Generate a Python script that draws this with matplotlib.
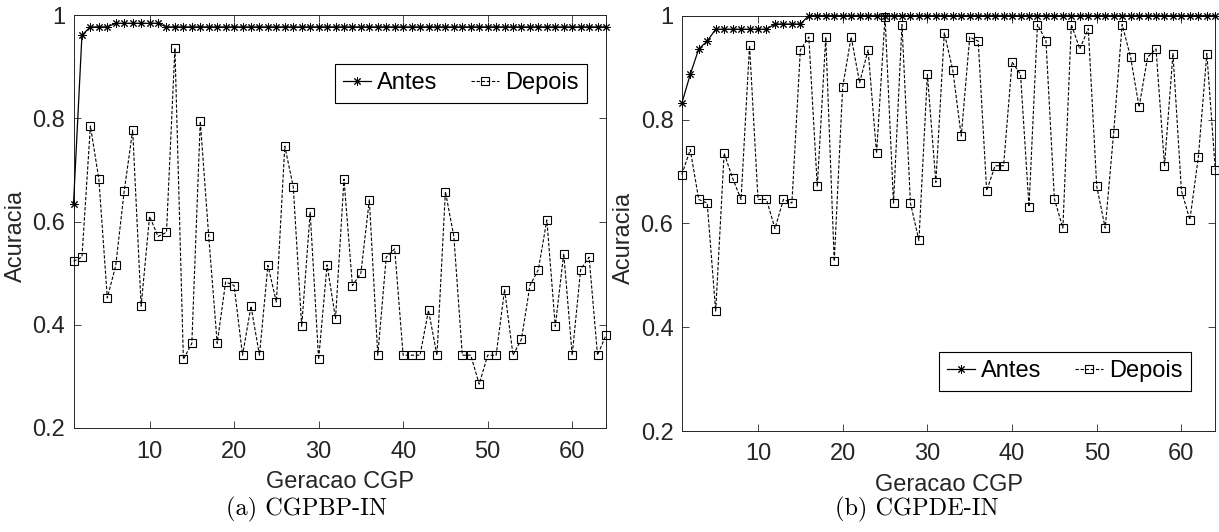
import matplotlib
matplotlib.use("Agg")
import matplotlib.pyplot as plt

geracao = list(range(1, 65))

# (a) CGPBP-IN
antes_bp = [0.634, 0.961, 0.977, 0.977, 0.977] + [0.984] * 6 + [0.977] * 53
depois_bp = [0.523, 0.531, 0.785, 0.682, 0.452, 0.515, 0.659, 0.777, 0.436, 0.610,
             0.571, 0.579, 0.936, 0.333, 0.364, 0.794, 0.571, 0.364, 0.483, 0.476,
             0.341, 0.436, 0.341, 0.515, 0.444, 0.746, 0.667, 0.397, 0.618, 0.333,
             0.516, 0.412, 0.682, 0.476, 0.500, 0.642, 0.341, 0.531, 0.547, 0.341,
             0.341, 0.341, 0.428, 0.341, 0.658, 0.571, 0.341, 0.341, 0.285, 0.341,
             0.341, 0.468, 0.341, 0.372, 0.476, 0.507, 0.603, 0.397, 0.538, 0.341,
             0.507, 0.531, 0.341, 0.380]

# (b) CGPDE-IN
antes_de = [0.831, 0.887, 0.936, 0.951] + [0.974] * 7 + [0.984] * 4 + [1.0] * 49
depois_de = [0.694, 0.742, 0.646, 0.639, 0.431, 0.735, 0.687, 0.646, 0.943, 0.646,
             0.646, 0.590, 0.646, 0.639, 0.934, 0.959, 0.671, 0.959, 0.527, 0.863,
             0.959, 0.871, 0.934, 0.735, 0.998, 0.639, 0.983, 0.639, 0.567, 0.887,
             0.679, 0.967, 0.895, 0.768, 0.959, 0.951, 0.663, 0.711, 0.711, 0.911,
             0.887, 0.632, 0.983, 0.952, 0.647, 0.591, 0.983, 0.936, 0.975, 0.671,
             0.591, 0.775, 0.983, 0.920, 0.824, 0.920, 0.936, 0.711, 0.927, 0.663,
             0.607, 0.728, 0.927, 0.703]

W, H = 1219, 532
GREY = "#262626"
plt.rcParams.update({"font.family": "Liberation Sans", "font.size": 17})

fig = plt.figure(figsize=(W / 100, H / 100), dpi=100)


def panel(rect, antes, depois, leg_loc, leg_anchor):
    ax = fig.add_axes(rect)
    ax.plot(geracao, antes, "-", color="black", lw=0.9, marker=(8, 2, 0), ms=6,
            mew=0.7, label="Antes", clip_on=False, zorder=3)
    ax.plot(geracao, depois, color="black", lw=0.8, dashes=(3, 1.6), marker="s",
            ms=6, mfc="none", mew=0.8, label="Depois", clip_on=False, zorder=3)
    ax.set_xlim(1, 64)
    ax.set_ylim(0.2, 1.0)
    ax.set_xticks([10, 20, 30, 40, 50, 60])
    ax.set_yticks([0.2, 0.4, 0.6, 0.8, 1.0])
    ax.set_yticklabels(["0.2", "0.4", "0.6", "0.8", "1"])
    ax.tick_params(direction="in", top=True, right=True, length=5, width=0.6,
                   colors=GREY, labelsize=17, pad=6)
    ax.tick_params(axis="x", pad=9)
    for s in ax.spines.values():
        s.set_color(GREY)
        s.set_linewidth(0.7)
    ax.set_xlabel("Geracao CGP", color=GREY, fontsize=17)
    ax.set_ylabel("Acuracia", color=GREY, fontsize=17)
    ax.xaxis.set_label_coords(0.5, -0.104)
    ax.yaxis.set_label_coords(-0.087, 0.465)
    leg = ax.legend(loc=leg_loc, bbox_to_anchor=leg_anchor, ncol=2, fontsize=17,
                    fancybox=False, framealpha=1, edgecolor="black",
                    handlelength=1.2, handletextpad=0.25, columnspacing=1.4,
                    borderpad=0.35, borderaxespad=0)
    leg.get_frame().set_linewidth(0.8)
    return ax


panel([73.5 / W, 1 - 428 / H, (606 - 73.5) / W, (428 - 15) / H],
      antes_bp, depois_bp, "upper right", (0.964, 0.881))
panel([681.8 / W, 1 - 431 / H, (1215.3 - 681.8) / W, (431 - 15.7) / H],
      antes_de, depois_de, "lower right", (0.954, 0.097))

fig.text(307 / W, 1 - 509 / H, "(a) CGPBP-IN", family="cmr10", fontsize=17.5,
         ha="center", va="center")
fig.text(917 / W, 1 - 509 / H, "(b) CGPDE-IN", family="cmr10", fontsize=17.5,
         ha="center", va="center")

fig.savefig("out.png", dpi=100)
